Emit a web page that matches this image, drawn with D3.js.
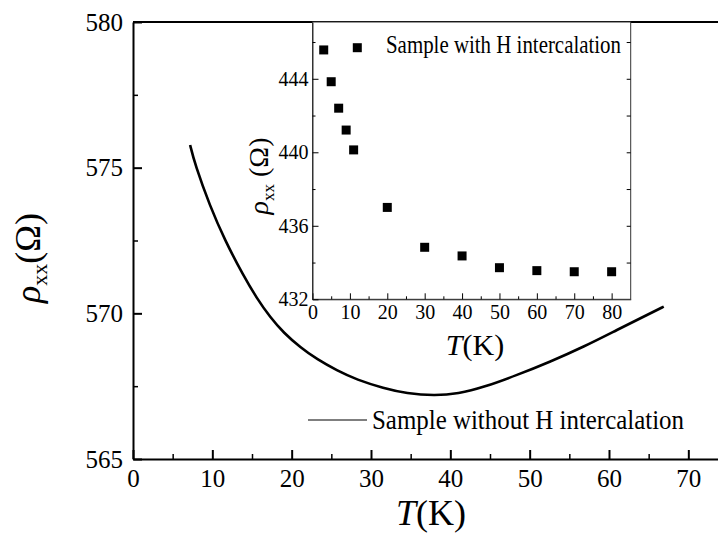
<!DOCTYPE html>
<html>
<head>
<meta charset="utf-8">
<script src="https://cdn.jsdelivr.net/npm/d3@7"></script>
<style>
  body { margin: 0; background: #fff; }
  svg { display: block; }
  svg text { font-family: "Liberation Serif", "DejaVu Serif", serif; }
</style>
</head>
<body>
<svg width="718" height="541"></svg>
<script>
// main curve: sample without H intercalation
var mainT   = [7.2, 7.8, 9.7, 11.6, 13.9, 15.6, 17.3, 19.0, 21.1, 23.2, 25.7, 28.2, 31.6, 34.5, 38.0, 41.0, 44.2, 48.4, 52.6, 56.8, 61.0, 65.2, 66.9];
var mainRho = [575.78, 575.12, 573.68, 572.50, 571.30, 570.52, 569.86, 569.33, 568.83, 568.42, 568.04, 567.72, 567.43, 567.25, 567.17, 567.24, 567.46, 567.88, 568.34, 568.85, 569.43, 570.0, 570.23];

// inset: sample with H intercalation
var insetT   = [3, 5, 7, 9, 11, 20, 30, 40, 50, 60, 70, 80];
var insetRho = [445.57, 443.84, 442.4, 441.21, 440.13, 437.0, 434.83, 434.36, 433.72, 433.56, 433.5, 433.5];

var mainXTicks = [0, 10, 20, 30, 40, 50, 60, 70];
var mainYTicks = [565, 570, 575, 580];
var insetXTicks = [0, 10, 20, 30, 40, 50, 60, 70, 80];
var insetYTicks = [432, 436, 440, 444];

var svg = d3.select("svg");

var margin = { left: 133, top: 22, right: 0, bottom: 82 };
var w = 718, h = 541;
var serif = "'Liberation Serif', 'DejaVu Serif', serif";

var x = d3.scaleLinear().domain([0, 73.74]).range([margin.left, w - margin.right]);
var y = d3.scaleLinear().domain([565, 580]).range([h - margin.bottom, margin.top]);

// inset scales
var ix = d3.scaleLinear().domain([0, 85.1]).range([312.5, 630.7]);
var iy = d3.scaleLinear().domain([432, 447.09]).range([299.3, 22]);

function styleAxis(g, width, fontSize) {
  g.attr("font-family", serif);
  g.select(".domain").attr("stroke", "#000").attr("stroke-width", width);
  g.selectAll(".tick line").attr("stroke", "#000").attr("stroke-width", width);
  g.selectAll("text").style("font-family", serif).attr("font-size", fontSize).attr("fill", "#000");
}

// ---- main axes ----
var xAxis = svg.append("g")
  .attr("transform", "translate(0," + y(565) + ")")
  .call(d3.axisBottom(x).tickValues(mainXTicks).tickSize(-9).tickPadding(10).tickSizeOuter(0));
styleAxis(xAxis, 2, 25);

svg.append("g")
  .attr("transform", "translate(0," + y(565) + ")")
  .call(d3.axisBottom(x).tickValues(d3.range(5, 75, 10)).tickSize(-5).tickFormat("").tickSizeOuter(0))
  .call(function(g) { styleAxis(g, 1.5, 0); g.select(".domain").remove(); });

// top border
svg.append("line")
  .attr("x1", x(0)).attr("x2", w).attr("y1", y(580)).attr("y2", y(580))
  .attr("stroke", "#000").attr("stroke-width", 2);

var yAxis = svg.append("g")
  .attr("transform", "translate(" + x(0) + ",0)")
  .call(d3.axisLeft(y).tickValues(mainYTicks).tickSize(-9).tickPadding(10).tickSizeOuter(0));
styleAxis(yAxis, 2, 25);

svg.append("g")
  .attr("transform", "translate(" + x(0) + ",0)")
  .call(d3.axisLeft(y).tickValues([567.5, 572.5, 577.5]).tickSize(-5).tickFormat("").tickSizeOuter(0))
  .call(function(g) { styleAxis(g, 1.5, 0); g.select(".domain").remove(); });

// ---- main curve ----
var mainData = mainT.map(function(t, i) { return { t: t, r: mainRho[i] }; });
var line = d3.line()
  .x(function(d) { return x(d.t); })
  .y(function(d) { return y(d.r); })
  .curve(d3.curveBasis);

svg.append("path").datum(mainData)
  .attr("d", line)
  .attr("fill", "none")
  .attr("stroke", "#000")
  .attr("stroke-width", 2.6);

// main legend
svg.append("line")
  .attr("x1", 308).attr("x2", 367).attr("y1", 420).attr("y2", 420)
  .attr("stroke", "#000").attr("stroke-width", 1.2);
svg.append("text")
  .attr("x", 372).attr("y", 429)
  .attr("font-size", 27)
  .attr("textLength", 312).attr("lengthAdjust", "spacingAndGlyphs")
  .text("Sample without H intercalation");

// main axis titles
var xt = svg.append("text")
  .attr("x", 431).attr("y", 525)
  .attr("text-anchor", "middle")
  .attr("font-size", 36);
xt.append("tspan").attr("font-style", "italic").text("T");
xt.append("tspan").text("(K)");

var yt = svg.append("text")
  .attr("transform", "translate(40,258) rotate(-90)")
  .attr("text-anchor", "middle")
  .attr("font-size", 36);
yt.append("tspan").attr("font-style", "italic").text("ρ");
yt.append("tspan").attr("font-size", 22).attr("dy", 7).text("xx");
yt.append("tspan").attr("dy", -7).text("(Ω)");

// ---- inset ----
svg.append("rect")
  .attr("x", ix(0)).attr("y", iy(447.09))
  .attr("width", ix(85.1) - ix(0)).attr("height", iy(432) - iy(447.09))
  .attr("fill", "#fff").attr("stroke", "#333").attr("stroke-width", 1);

var ixAxis = svg.append("g")
  .attr("transform", "translate(0," + iy(432) + ")")
  .call(d3.axisBottom(ix).tickValues(insetXTicks).tickSize(-6).tickPadding(6).tickSizeOuter(0));
styleAxis(ixAxis, 1, 20);
ixAxis.select(".domain").attr("stroke", "#333");

svg.append("g")
  .attr("transform", "translate(0," + iy(432) + ")")
  .call(d3.axisBottom(ix).tickValues(d3.range(5, 85, 10)).tickSize(-3).tickFormat("").tickSizeOuter(0))
  .call(function(g) { styleAxis(g, 1, 0); g.select(".domain").remove(); });

var iyAxis = svg.append("g")
  .attr("transform", "translate(" + ix(0) + ",0)")
  .call(d3.axisLeft(iy).tickValues(insetYTicks).tickSize(-6).tickPadding(4).tickSizeOuter(0));
styleAxis(iyAxis, 1, 20);
iyAxis.select(".domain").attr("stroke", "#333");

svg.append("g")
  .attr("transform", "translate(" + ix(0) + ",0)")
  .call(d3.axisLeft(iy).tickValues([434, 438, 442, 446]).tickSize(-3).tickFormat("").tickSizeOuter(0))
  .call(function(g) { styleAxis(g, 1, 0); g.select(".domain").remove(); });

// right side mirrored ticks
svg.append("g")
  .attr("transform", "translate(" + ix(85.1) + ",0)")
  .call(d3.axisRight(iy).tickValues(d3.range(434, 447, 2)).tickSize(-4).tickFormat("").tickSizeOuter(0))
  .call(function(g) { styleAxis(g, 1, 0); g.select(".domain").remove(); });

// inset points
svg.selectAll(".pt")
  .data(insetT.map(function(t, i) { return { t: t, r: insetRho[i] }; }))
  .enter().append("path")
  .attr("class", "pt")
  .attr("transform", function(d) { return "translate(" + ix(d.t) + "," + iy(d.r) + ")"; })
  .attr("d", d3.symbol().type(d3.symbolSquare).size(81)())
  .attr("fill", "#000");

// inset legend
svg.append("path")
  .attr("transform", "translate(357.3,47.7)")
  .attr("d", d3.symbol().type(d3.symbolSquare).size(81)())
  .attr("fill", "#000");
svg.append("text")
  .attr("x", 386).attr("y", 53)
  .attr("font-size", 26)
  .attr("textLength", 235).attr("lengthAdjust", "spacingAndGlyphs")
  .text("Sample with H intercalation");

// inset axis titles
var ixt = svg.append("text")
  .attr("x", 475).attr("y", 355)
  .attr("text-anchor", "middle")
  .attr("font-size", 30);
ixt.append("tspan").attr("font-style", "italic").text("T");
ixt.append("tspan").text("(K)");

var iyt = svg.append("text")
  .attr("transform", "translate(268,176) rotate(-90)")
  .attr("text-anchor", "middle")
  .attr("font-size", 28);
iyt.append("tspan").attr("font-style", "italic").text("ρ");
iyt.append("tspan").attr("font-size", 17).attr("dy", 6).text("xx");
iyt.append("tspan").attr("dy", -6).text(" (Ω)");
</script>
</body>
</html>
